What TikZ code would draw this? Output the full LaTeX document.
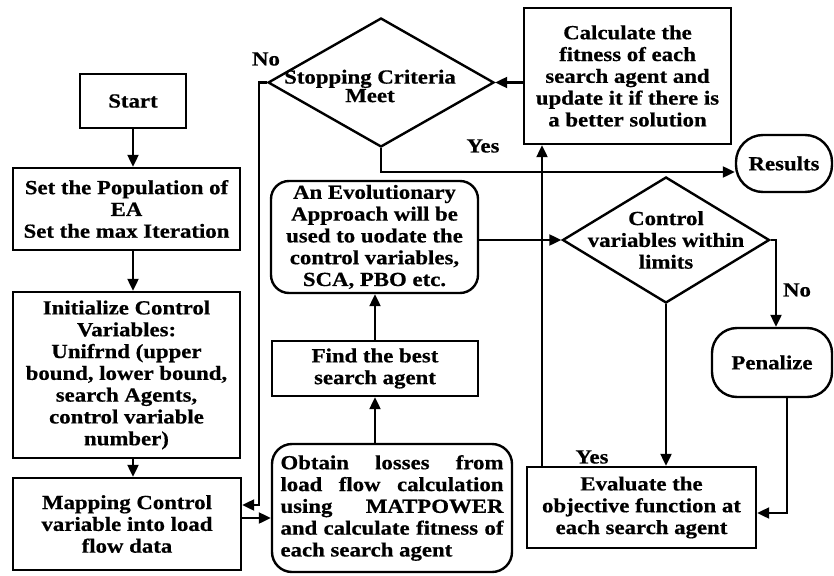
\documentclass[tikz,border=0pt]{standalone}
\usepackage{fontspec}
\setmainfont{Liberation Serif}[FakeStretch=1.14,BoldFeatures={FakeStretch=1.14,FakeBold=0.6}]
\usetikzlibrary{shapes.geometric,arrows.meta}
\begin{document}
\begin{tikzpicture}[x=1pt,y=-1pt,
  every node/.style={font=\fontsize{20}{21.8}\selectfont\bfseries, inner sep=0pt},
  box/.style={draw, line width=2.4pt, align=center},
  rbox/.style={box, rounded corners=#1},
  dia/.style={draw, diamond, line width=2.4pt},
  arr/.style={line width=2.2pt, -{Triangle[length=12pt,width=11pt]}},
  lbl/.style={font=\fontsize{20}{21.8}\selectfont\bfseries}]
\useasboundingbox (0,0) rectangle (834,575);

\node[box, minimum width=106pt, minimum height=54pt] (start) at (133,101) {Start};
\node[box, minimum width=227pt, minimum height=82pt] (pop) at (126.5,209) {Set the Population of\\EA\\Set the max Iteration};
\node[box, minimum width=227pt, minimum height=166pt] (init) at (126.5,375) {Initialize Control\\Variables:\\Unifrnd (upper\\bound, lower bound,\\search Agents,\\control variable\\number)};
\node[box, minimum width=228pt, minimum height=92pt] (map) at (127,524) {Mapping Control\\variable into load\\flow data};
\node[rbox=20pt, minimum width=240pt, minimum height=128pt, align=left] (obt) at (392,508) {\makebox[223pt][s]{Obtain losses from}\\\makebox[223pt][s]{load flow calculation}\\\makebox[223pt][s]{using MATPOWER}\\\makebox[223pt][s]{and calculate fitness of}\\\makebox[223pt][l]{each search agent}};
\node[box, minimum width=206pt, minimum height=55pt] (find) at (375,368.5) {Find the best\\search agent};
\node[rbox=18pt, minimum width=207pt, minimum height=112pt] (evo) at (374.5,237) {An Evolutionary\\Approach will be\\used to uodate the\\control variables,\\SCA, PBO etc.};
\node[dia, minimum width=226pt, minimum height=129pt] (stop) at (381,82.5) {};
\node[align=center, font=\fontsize{20}{13.5}\selectfont\bfseries] (stoptxt) at (370,86) {Stopping Criteria\\Meet};
\node[box, minimum width=207pt, minimum height=136pt] (calc) at (627.5,76) {Calculate the\\fitness of each\\search agent and\\update it if there is\\a better solution};
\node[rbox=27pt, minimum width=96pt, minimum height=57pt] (res) at (784,163.5) {Results};
\node[dia, minimum width=207pt, minimum height=126pt] (ctrl) at (666,240) {};
\node[align=center] (ctrltxt) at (666,240) {Control\\variables within\\limits};
\node[rbox=25pt, minimum width=120pt, minimum height=69pt] (pen) at (772,362.5) {Penalize};
\node[box, minimum width=229pt, minimum height=81pt] (eval) at (641.5,507.5) {Evaluate the\\objective function at\\each search agent};

% labels
\node[lbl] (no1) at (266,59) {No};
\node[lbl] (yes1) at (483,146) {Yes};
\node[lbl] (yes2) at (592,457) {Yes};
\node[lbl] (no2) at (797,290) {No};

% connectors
\draw[arr] (start.south) -- (start.south |- pop.north);
\draw[arr] (pop.south -| start.south) -- (start.south |- init.north);
\draw[arr] (init.south -| start.south) -- (start.south |- map.north);
\coordinate (m1) at ([yshift=6pt]map.east);
\draw[arr] (m1) -- (m1 -| obt.west);
\draw[arr] (obt.north -| find.south) -- (find.south);
\draw[arr] (find.north) -- (find.north |- evo.south);
\draw[arr] (evo.east |- ctrl.west) -- (ctrl.west);
\draw[arr] (ctrl.south) -- (ctrl.south |- eval.north);
\draw[arr] (ctrl.east) -| ([xshift=4pt]pen.north);
\draw[arr] ([xshift=15pt]pen.south) |- ([yshift=-5.5pt]eval.east);
\coordinate (e1) at ([xshift=-85.5pt]calc.south);
\draw[arr] (e1 |- eval.north) -- (e1);
\draw[arr] (calc.west |- stop.east) -- (stop.east);
\draw[arr] (stop.south) |- ([yshift=-8.5pt]res.west);
\draw[arr] (stop.west) -- ([xshift=-8pt]stop.west) |- ([yshift=19pt]map.east);
\end{tikzpicture}
\end{document}
